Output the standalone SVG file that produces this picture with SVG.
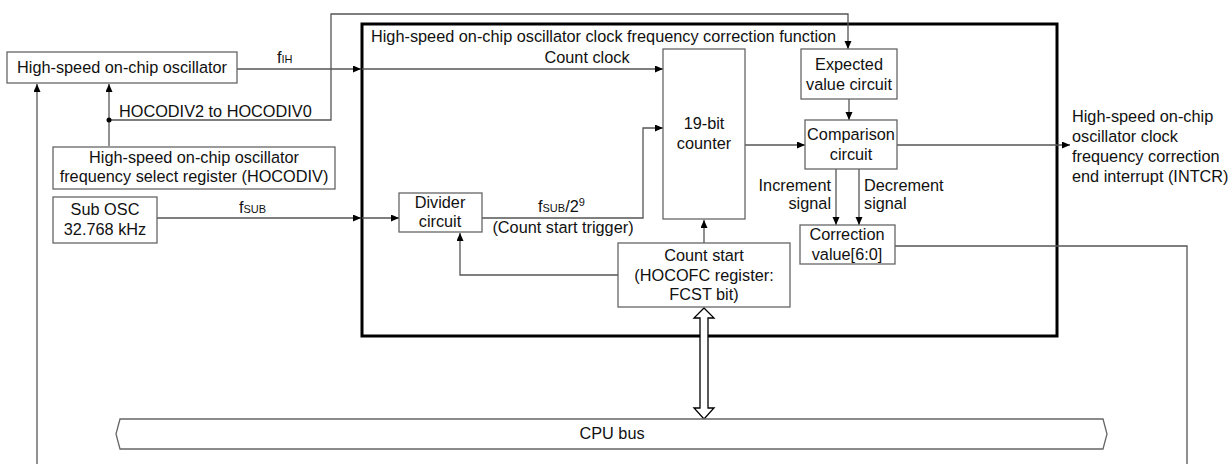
<svg xmlns="http://www.w3.org/2000/svg" width="1228" height="464" viewBox="0 0 1228 464">
<style>
.box{fill:#fff;stroke:#666;stroke-width:1.3}
.main{fill:none;stroke:#000;stroke-width:3}
.ln{fill:none;stroke:#555;stroke-width:1.3}
.ar{marker-end:url(#ah)}
text{font-family:"Liberation Sans",Arial,sans-serif;font-size:16.3px;fill:#111}
.c{text-anchor:middle}
.e{text-anchor:end}
.s{font-size:11px}
</style>
<defs>
<marker id="ah" markerUnits="userSpaceOnUse" markerWidth="9" markerHeight="8" refX="8" refY="3.5" orient="auto">
<path d="M0,0 L8,3.5 L0,7 z" fill="#000"/>
</marker>
</defs>
<g id="main-frame">
<rect class="main" x="362" y="24" width="695" height="312"/>
<text x="371" y="42">High-speed on-chip oscillator clock frequency correction function</text>
</g>
<g id="connectors">
<path class="ln ar" d="M237,69 H361"/>
<path class="ln ar" d="M362,69 H663"/>
<path class="ln ar" d="M37,464 V84"/>
<path class="ln ar" d="M109,146 V84"/>
<path class="ln ar" d="M109,120 H331 V14 H848 V49"/>
<circle cx="109" cy="120" r="2.5" fill="#000"/>
<path class="ln ar" d="M157,218 H361"/>
<path class="ln ar" d="M362,218 H399"/>
<path class="ln ar" d="M482,218 H643 V128 H663"/>
<path class="ln ar" d="M618,275 H460 V233"/>
<path class="ln ar" d="M704,243 V220"/>
<path class="ln ar" d="M745,145 H805"/>
<path class="ln ar" d="M849,99 V120"/>
<path class="ln ar" d="M897,145 H1070"/>
<path class="ln ar" d="M836,169 V225"/>
<path class="ln ar" d="M859,169 V225"/>
<path class="ln" d="M895,246 H1187 V464"/>
<polygon points="704,308 714,318 708,318 708,408 714,408 704,419 694,408 700,408 700,318 694,318" fill="#fff" stroke="#000" stroke-width="1.3"/>
<text x="277" y="63">f<tspan class="s">IH</tspan></text>
<text x="119" y="117">HOCODIV2 to HOCODIV0</text>
<text x="239" y="213">f<tspan class="s">SUB</tspan></text>
<text x="587" y="63" class="c">Count clock</text>
<text x="538" y="212">f<tspan class="s">SUB</tspan>/2<tspan class="s" dy="-6">9</tspan></text>
<text x="563" y="233" class="c">(Count start trigger)</text>
<text x="831" y="191" class="e">Increment</text>
<text x="831" y="209" class="e">signal</text>
<text x="864" y="191">Decrement</text>
<text x="864" y="209">signal</text>
<text x="1072" y="122">High-speed on-chip</text>
<text x="1072" y="142">oscillator clock</text>
<text x="1072" y="162">frequency correction</text>
<text x="1072" y="182">end interrupt (INTCR)</text>
</g>
<g id="hoco">
<rect class="box" x="7" y="52" width="230" height="31"/>
<text x="122" y="73" class="c">High-speed on-chip oscillator</text>
</g>
<g id="hocodiv">
<rect class="box" x="53" y="147" width="282" height="42"/>
<text x="194" y="163" class="c">High-speed on-chip oscillator</text>
<text x="194" y="182" class="c">frequency select register (HOCODIV)</text>
</g>
<g id="subosc">
<rect class="box" x="53" y="197" width="104" height="46"/>
<text x="105" y="215" class="c">Sub OSC</text>
<text x="105" y="235" class="c">32.768 kHz</text>
</g>
<g id="divider">
<rect class="box" x="399" y="193" width="83" height="39"/>
<text x="440" y="208" class="c">Divider</text>
<text x="440" y="227" class="c">circuit</text>
</g>
<g id="counter">
<rect class="box" x="663" y="49" width="82" height="170"/>
<text x="704" y="129" class="c">19-bit</text>
<text x="704" y="149" class="c">counter</text>
</g>
<g id="countstart">
<rect class="box" x="618" y="243" width="172" height="64"/>
<text x="704" y="261" class="c">Count start</text>
<text x="704" y="281" class="c">(HOCOFC register:</text>
<text x="704" y="300" class="c">FCST bit)</text>
</g>
<g id="expected">
<rect class="box" x="801" y="49" width="96" height="50"/>
<text x="849" y="70" class="c">Expected</text>
<text x="849" y="90" class="c">value circuit</text>
</g>
<g id="comparison">
<rect class="box" x="805" y="120" width="92" height="49"/>
<text x="851" y="140" class="c">Comparison</text>
<text x="851" y="160" class="c">circuit</text>
</g>
<g id="correction">
<rect class="box" x="800" y="225" width="95" height="39"/>
<text x="847" y="240" class="c">Correction</text>
<text x="847" y="260" class="c">value[6:0]</text>
</g>
<g id="cpubus">
<polygon class="box" points="120,419 1103,419 1107,434 1103,449 120,449 116,434"/>
<text x="612" y="439" class="c">CPU bus</text>
</g>
</svg>
